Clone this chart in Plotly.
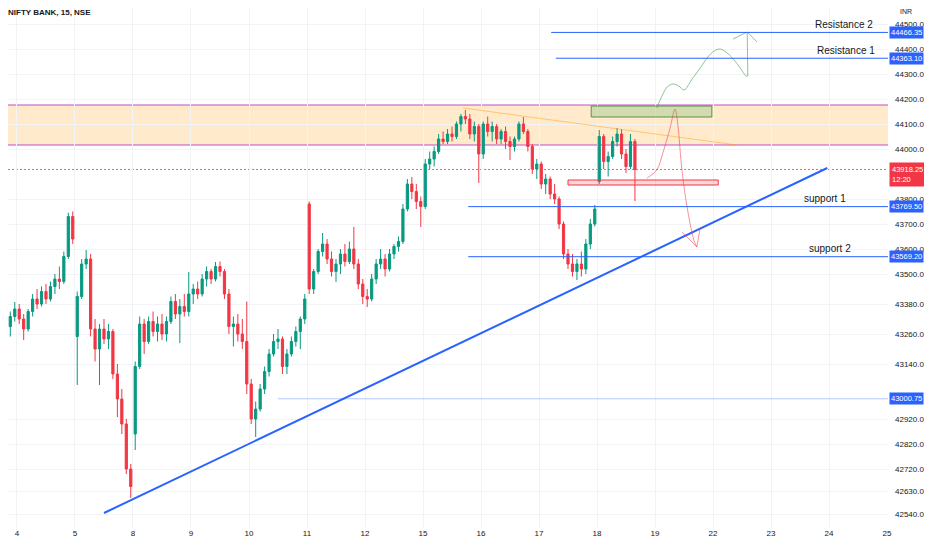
import plotly.graph_objects as go

# ---- data (15 min NIFTY BANK, resampled to ~13 bars per session) ----
day_labels = ["4", "5", "8", "9", "10", "11", "12", "15", "16", "17", "18", "19", "22", "23", "24", "25"]
BARS_PER_DAY = 13

# session index on the time axis (day "4" = 0), first slot drawn and bar count
session_index = [-1, 0, 1, 2, 3, 4, 5, 6, 7, 8, 9, 10]
session_first_slot = [9, 0, 0, 0, 0, 0, 0, 0, 0, 0, 0, 0]
session_bars = [4, 13, 13, 13, 13, 13, 13, 13, 13, 13, 13, 9]

opens = [
    43270, 43210, 43290, 43330,
    43360, 43320, 43280, 43350, 43400, 43380, 43430, 43400, 43450, 43480, 43470, 43570, 43730,
    43250, 43410, 43540, 43560, 43280, 43200, 43280, 43240, 43270, 43100, 43000, 42900, 42720,
    42860, 43130, 43300, 43230, 43310, 43270, 43300, 43260, 43310, 43390, 43340, 43370, 43350,
    43420, 43440, 43420, 43480, 43510, 43480, 43530, 43510, 43420, 43290, 43300, 43260, 43230,
    43060, 42920, 42960, 43040, 43110, 43180, 43230, 43240, 43130, 43180, 43230, 43270, 43320,
    43780, 43440, 43510, 43590, 43620, 43560, 43510, 43540, 43580, 43550, 43600, 43540, 43460,
    43410, 43400, 43480, 43540, 43560, 43520, 43580, 43610, 43630, 43760, 43860, 43830, 43790,
    43770, 43940, 43960, 43990, 44040, 44030, 44060, 44050, 44100, 44130, 44120, 44060, 44090,
    43980, 44100, 44070, 44090, 44040, 44070, 44030, 44010, 44040, 44100, 44070, 44010, 43920,
    43940, 43860, 43880, 43820, 43800, 43700, 43580, 43540, 43510, 43540, 43520, 43620, 43700,
    43870, 44050, 43950, 43970, 44030, 44060, 43980, 43930, 44030,
]
highs = [
    43290, 43300, 43350, 43388,
    43380, 43340, 43360, 43420, 43440, 43450, 43460, 43470, 43500, 43530, 43590, 43745, 43750,
    43430, 43560, 43596, 43580, 43320, 43300, 43320, 43300, 43280, 43140, 43040, 42920, 42740,
    43150, 43330, 43320, 43330, 43350, 43330, 43340, 43330, 43410, 43420, 43400, 43420, 43508,
    43460, 43470, 43500, 43530, 43520, 43548, 43550, 43520, 43440, 43330, 43340, 43320, 43390,
    43080, 42990, 43060, 43130, 43200, 43260, 43280, 43250, 43200, 43250, 43290, 43330, 43420,
    43790, 43520, 43600, 43664, 43640, 43590, 43560, 43600, 43620, 43630, 43688, 43560, 43480,
    43440, 43500, 43560, 43600, 43580, 43600, 43620, 43650, 43780, 43880, 43888, 43860, 43810,
    43960, 43990, 44010, 44060, 44070, 44080, 44090, 44110, 44140, 44156, 44140, 44110, 44100,
    44110, 44130, 44110, 44100, 44080, 44090, 44050, 44050, 44110, 44128, 44080, 44020, 43960,
    43950, 43900, 43890, 43860, 43810, 43710, 43600, 43580, 43560, 43590, 43640, 43720, 43776,
    44076, 44060, 43990, 44050, 44084, 44080, 44000, 44060, 44040,
]
lows = [
    43190, 43200, 43250, 43310,
    43300, 43236, 43270, 43330, 43360, 43370, 43380, 43390, 43420, 43440, 43460, 43560, 43620,
    43056, 43400, 43520, 43250, 43150, 43056, 43220, 43200, 43080, 42928, 42860, 42700, 42604,
    42796, 43120, 43180, 43220, 43250, 43230, 43236, 43230, 43300, 43320, 43224, 43330, 43330,
    43380, 43400, 43410, 43450, 43460, 43470, 43490, 43400, 43260, 43210, 43230, 43200, 43020,
    42900, 42848, 42950, 43020, 43090, 43170, 43200, 43100, 43100, 43170, 43210, 43200, 43300,
    43420, 43420, 43500, 43570, 43540, 43490, 43468, 43500, 43530, 43540, 43520, 43440, 43380,
    43368, 43390, 43460, 43520, 43490, 43510, 43560, 43590, 43620, 43750, 43800, 43760, 43688,
    43760, 43920, 43930, 43980, 44020, 44020, 44030, 44040, 44070, 44100, 44040, 44030, 43864,
    43960, 44050, 44030, 44020, 44020, 44000, 43956, 43990, 44030, 44060, 43990, 43900, 43880,
    43840, 43820, 43800, 43780, 43680, 43560, 43520, 43490, 43476, 43490, 43500, 43600, 43690,
    43860, 43920, 43890, 43960, 44010, 43960, 43904, 43920, 43792,
]
closes = [
    43210, 43290, 43330, 43360,
    43320, 43280, 43350, 43400, 43380, 43430, 43400, 43450, 43480, 43470, 43570, 43730, 43640,
    43410, 43540, 43560, 43280, 43200, 43280, 43240, 43270, 43100, 43000, 42900, 42720, 42650,
    43130, 43300, 43230, 43310, 43270, 43300, 43260, 43310, 43390, 43340, 43370, 43350, 43420,
    43440, 43420, 43480, 43510, 43480, 43530, 43510, 43420, 43290, 43300, 43260, 43230, 43060,
    42920, 42960, 43040, 43110, 43180, 43230, 43240, 43130, 43180, 43230, 43270, 43320, 43400,
    43440, 43510, 43590, 43620, 43560, 43510, 43540, 43580, 43550, 43600, 43540, 43460, 43410,
    43400, 43480, 43540, 43560, 43520, 43580, 43610, 43630, 43760, 43860, 43830, 43790, 43770,
    43940, 43960, 43990, 44040, 44030, 44060, 44050, 44100, 44130, 44120, 44060, 44090, 43980,
    44100, 44070, 44090, 44040, 44070, 44030, 44010, 44040, 44100, 44070, 44010, 43920, 43940,
    43860, 43880, 43820, 43800, 43700, 43580, 43540, 43510, 43540, 43520, 43620, 43700, 43760,
    44050, 43950, 43970, 44030, 44060, 43980, 43930, 44030, 43918.25,
]

# price axis (43900 and 43020 sit under badges, so they are left out)
price_ticks = [44500, 44400, 44300, 44200, 44100, 44000, 43800, 43700, 43600, 43500,
               43380, 43260, 43140, 42920, 42820, 42720, 42630, 42540]
last_price = 43918.25
bar_countdown = "12:20"

# drawn levels
resistance_levels = [44466.35, 44363.10]
resistance_start = [9.21, 9.29]
resistance_names = ["Resistance 2", "Resistance 1"]
resistance_label_x = [14.79, 14.83]
support_levels = [43769.50, 43569.20]
support_start = [7.78, 7.78]
support_names = ["support 1", "support 2"]
support_label_x = [14.33, 14.41]
old_level = 43000.75
old_level_start = 4.5

zone_low, zone_high = 44016, 44176
green_box = [9.9, 11.98, 44128, 44172]
red_box = [9.5, 12.09, 43856, 43876]

trend_x = [1.5, 13.97]
trend_y = [42544, 43924]
fade_x = [7.69, 12.41]
fade_y = [44164, 44016]

red_path_x = [10.86, 11.03, 11.14, 11.26, 11.345, 11.40, 11.45, 11.52, 11.60, 11.67, 11.72]
red_path_y = [43883, 43916, 43988, 44084, 44160, 44084, 43948, 43816, 43708, 43636, 43608]
red_head_x = [11.47, 11.72, 11.78]
red_head_y = [43668, 43608, 43684]

green_path_x = [11.03, 11.12, 11.21, 11.31, 11.41, 11.50, 11.64, 11.78, 11.91, 12.02, 12.12,
                12.22, 12.35, 12.47, 12.57, 12.60]
green_path_y = [44164, 44212, 44248, 44260, 44252, 44236, 44280, 44324, 44368, 44392, 44400,
                44388, 44360, 44324, 44292, 44292]
green_up_x = [12.60, 12.59]
green_up_y = [44292, 44468]
green_head_x = [12.345, 12.59, 12.76]
green_head_y = [44440, 44468, 44428]

# the page has an 8px body margin, so the figure starts 8px in
X_MIN, X_MAX = -0.155, 15.017
Y_MIN, Y_MAX = 42488, 44564

BLUE = "#2962ff"
GREEN = "#089981"
RED = "#f23645"
TEXT = "#131722"
GRID = "#f2f3f6"
ZONE_LINE = "#c04cc8"

# bar positions on the time axis
bar_x = []
for s, first, n in zip(session_index, session_first_slot, session_bars):
    for k in range(n):
        bar_x.append(s + (first + k + 0.5) / BARS_PER_DAY)

fig = go.Figure()

fig.add_trace(go.Candlestick(
    x=bar_x, open=opens, high=highs, low=lows, close=closes,
    increasing=dict(line=dict(color=GREEN, width=1), fillcolor=GREEN),
    decreasing=dict(line=dict(color=RED, width=1), fillcolor=RED),
    whiskerwidth=0, hoverinfo="skip",
))

fig.add_trace(go.Scatter(x=trend_x, y=trend_y, mode="lines",
                         line=dict(color=BLUE, width=2), hoverinfo="skip"))
fig.add_trace(go.Scatter(x=fade_x, y=fade_y, mode="lines",
                         line=dict(color="rgba(255,152,0,0.45)", width=1), hoverinfo="skip"))
fig.add_trace(go.Scatter(x=red_path_x, y=red_path_y, mode="lines",
                         line=dict(color="rgba(242,54,69,0.55)", width=1, shape="spline"),
                         hoverinfo="skip"))
fig.add_trace(go.Scatter(x=red_head_x, y=red_head_y, mode="lines",
                         line=dict(color="rgba(242,54,69,0.55)", width=1), hoverinfo="skip"))
fig.add_trace(go.Scatter(x=green_path_x, y=green_path_y, mode="lines",
                         line=dict(color="rgba(67,160,71,0.6)", width=1, shape="spline"),
                         hoverinfo="skip"))
fig.add_trace(go.Scatter(x=green_up_x, y=green_up_y, mode="lines",
                         line=dict(color="rgba(67,160,71,0.6)", width=1), hoverinfo="skip"))
fig.add_trace(go.Scatter(x=green_head_x, y=green_head_y, mode="lines",
                         line=dict(color="rgba(67,160,71,0.6)", width=1), hoverinfo="skip"))

shapes = []
# supply zone
shapes.append(dict(type="rect", xref="x", yref="y", x0=X_MIN, x1=X_MAX, y0=zone_low, y1=zone_high,
                   fillcolor="rgba(255,152,0,0.2)", line=dict(width=0), layer="below"))
for p in (zone_low, zone_high):
    shapes.append(dict(type="line", xref="x", yref="y", x0=X_MIN, x1=X_MAX, y0=p, y1=p,
                       line=dict(color=ZONE_LINE, width=1), layer="below"))
# current price
shapes.append(dict(type="line", xref="x", yref="y", x0=X_MIN, x1=X_MAX, y0=last_price, y1=last_price,
                   line=dict(color="rgba(242,54,69,0.8)", width=1, dash="2px,2px"), layer="below"))
# levels
for p, x0 in zip(resistance_levels + support_levels, resistance_start + support_start):
    shapes.append(dict(type="line", xref="x", yref="y", x0=x0, x1=X_MAX, y0=p, y1=p,
                       line=dict(color=BLUE, width=1)))
shapes.append(dict(type="line", xref="x", yref="y", x0=old_level_start, x1=X_MAX,
                   y0=old_level, y1=old_level, line=dict(color="rgba(41,98,255,0.35)", width=1)))
# boxes
shapes.append(dict(type="rect", xref="x", yref="y", x0=green_box[0], x1=green_box[1],
                   y0=green_box[2], y1=green_box[3], fillcolor="rgba(76,175,80,0.25)",
                   line=dict(color="rgba(67,130,60,0.85)", width=1)))
shapes.append(dict(type="rect", xref="x", yref="y", x0=red_box[0], x1=red_box[1],
                   y0=red_box[2], y1=red_box[3], fillcolor="rgba(242,54,69,0.2)",
                   line=dict(color=RED, width=1)))

annotations = []
for p, name, xr in zip(resistance_levels, resistance_names, resistance_label_x):
    annotations.append(dict(x=xr, y=p, xref="x", yref="y", text=name, showarrow=False,
                            xanchor="right", yanchor="bottom", yshift=0,
                            font=dict(size=10, color=TEXT)))
for p, name, xr in zip(support_levels, support_names, support_label_x):
    annotations.append(dict(x=xr, y=p, xref="x", yref="y", text=name, showarrow=False,
                            xanchor="right", yanchor="bottom", yshift=1,
                            font=dict(size=10, color=TEXT)))
# price axis badges
for p in resistance_levels + support_levels + [old_level]:
    annotations.append(dict(x=1, y=p, xref="paper", yref="y", text=f"{p:.2f}", showarrow=False,
                            xanchor="left", xshift=1, bgcolor=BLUE, borderpad=1,
                            font=dict(size=7.5, color="white")))
annotations.append(dict(x=1, y=last_price, xref="paper", yref="y",
                        text=f"{last_price:.2f}<br>{bar_countdown}", showarrow=False, align="left",
                        xanchor="left", yanchor="top", yshift=7, xshift=1, bgcolor=RED, borderpad=2,
                        font=dict(size=7.5, color="white")))
annotations.append(dict(x=0, y=1, xref="paper", yref="paper", text="<b>NIFTY BANK, 15, NSE</b>",
                        showarrow=False, xanchor="left", yanchor="top", xshift=-2, yshift=2,
                        font=dict(size=8, color=TEXT)))
annotations.append(dict(x=1, y=1, xref="paper", yref="paper", text="INR", showarrow=False,
                        xanchor="left", yanchor="top", xshift=10, yshift=2,
                        font=dict(size=7, color=TEXT)))

fig.update_layout(
    width=924, height=542,
    margin=dict(l=0, r=44, t=0, b=23),
    paper_bgcolor="white", plot_bgcolor="white",
    showlegend=False,
    font=dict(family="Liberation Sans", size=8, color=TEXT),
    shapes=shapes, annotations=annotations,
    xaxis=dict(range=[X_MIN, X_MAX], tickvals=list(range(len(day_labels))), ticktext=day_labels,
               showgrid=True, gridcolor=GRID, zeroline=False, ticks="",
               rangeslider=dict(visible=False), fixedrange=True),
    yaxis=dict(side="right", range=[Y_MIN, Y_MAX], tickvals=price_ticks,
               ticktext=[f"{v:.2f}" for v in price_ticks], showgrid=True, gridcolor=GRID,
               zeroline=False, ticks="", ticklabelstandoff=6, fixedrange=True),
)

fig.write_html("out.html")
